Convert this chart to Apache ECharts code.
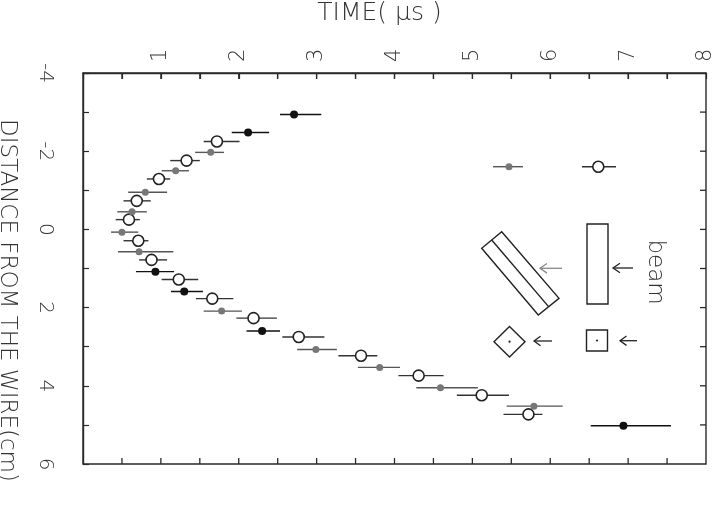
<!DOCTYPE html>
<html>
<head>
<meta charset="utf-8">
<script src="https://cdn.jsdelivr.net/npm/echarts@6/dist/echarts.min.js"></script>
<style>html,body{margin:0;padding:0;background:#fff;}#c{width:720px;height:516px;}</style>
</head>
<body>
<div id="c"></div>
<script>
// Open circles: distance (cm), time (us), error-bar low/high (us)
const openDist = [-2.25, -1.76, -1.29, -0.73, -0.25, 0.29, 0.78, 1.28, 1.77, 2.27, 2.75, 3.23, 3.74, 4.24, 4.73];
const openTime = [1.72, 1.33, 0.975, 0.69, 0.59, 0.71, 0.88, 1.23, 1.66, 2.19, 2.77, 3.57, 4.31, 5.12, 5.72];
const openLo   = [1.55, 1.12, 0.82, 0.52, 0.42, 0.52, 0.72, 1.01, 1.45, 1.97, 2.56, 3.28, 4.05, 4.80, 5.40];
const openHi   = [2.01, 1.50, 1.12, 0.87, 0.73, 0.84, 1.08, 1.48, 1.93, 2.49, 3.10, 3.78, 4.63, 5.47, 5.90];
// Gray dots
const grayDist = [-1.97, -1.5, -0.95, -0.45, 0.07, 0.57, 2.09, 3.07, 3.53, 4.05, 4.52];
const grayTime = [1.64, 1.19, 0.80, 0.63, 0.50, 0.72, 1.78, 2.99, 3.81, 4.59, 5.79];
const grayLo   = [1.44, 1.01, 0.58, 0.44, 0.36, 0.45, 1.55, 2.75, 3.53, 4.28, 5.44];
const grayHi   = [1.81, 1.36, 1.08, 0.82, 0.71, 1.16, 2.04, 3.26, 4.07, 5.07, 6.16];
// Black dots
const blackDist = [-2.94, -2.48, 1.08, 1.59, 2.60, 5.02];
const blackTime = [2.71, 2.12, 0.93, 1.30, 2.30, 6.94];
const blackLo   = [2.53, 1.91, 0.68, 1.13, 2.10, 6.52];
const blackHi   = [3.06, 2.39, 1.17, 1.54, 2.53, 7.55];
// Tick labels and tick positions
const timeTickLabels = [1, 2, 3, 4, 5, 6, 7, 8];
const distTickLabels = [-4, -2, 0, 2, 4, 6];
const timeTicks = [0.5, 1, 1.5, 2, 2.5, 3, 3.5, 4, 4.5, 5, 5.5, 6, 6.5, 7, 7.5];
const distTicks = [-3, -2, -1, 0, 1, 2, 3, 4, 5];

const FONT = 'DejaVu Sans';
const INK = '#2a2a2a';
const TICK = 6;

function errRender(color) {
  return function (params, api) {
    const a = api.coord([api.value(0), api.value(2)]);
    const b = api.coord([api.value(1), api.value(2)]);
    return { type: 'line', shape: { x1: a[0], y1: a[1], x2: b[0], y2: b[1] },
             style: { stroke: color, lineWidth: 1.4 } };
  };
}
function errData(lo, hi, d) { return lo.map((v, i) => [v, hi[i], d[i]]); }
function ptData(t, d) { return t.map((v, i) => [v, d[i]]); }

const chart = echarts.init(document.getElementById('c'), null, { renderer: 'canvas' });

const legendGraphic = [
  // legend: gray dot with bar
  { type: 'line', shape: { x1: 493, y1: 166.7, x2: 523, y2: 166.7 }, style: { stroke: '#555', lineWidth: 1.4 }, z: 10 },
  { type: 'circle', shape: { cx: 509, cy: 166.7, r: 3.5 }, style: { fill: '#777' }, z: 11 },
  // legend: open circle with bar
  { type: 'line', shape: { x1: 582, y1: 166.7, x2: 616, y2: 166.7 }, style: { stroke: '#333', lineWidth: 1.4 }, z: 10 },
  { type: 'circle', shape: { cx: 598.3, cy: 166.7, r: 5.5 }, style: { fill: '#fff', stroke: '#222', lineWidth: 1.6 }, z: 11 },
  // tilted beam rectangle
  { type: 'polygon', shape: { points: [[501.7, 231.7], [559, 298.3], [538.3, 315], [481.7, 248.3]] },
    style: { fill: 'none', stroke: '#222', lineWidth: 1.4 }, z: 10 },
  { type: 'line', shape: { x1: 491.7, y1: 240, x2: 548.6, y2: 306.6 }, style: { stroke: '#222', lineWidth: 1.4 }, z: 10 },
  // gray arrow
  { type: 'line', shape: { x1: 540, y1: 268.3, x2: 562, y2: 268.3 }, style: { stroke: '#888', lineWidth: 1.3 }, z: 10 },
  { type: 'polyline', shape: { points: [[547, 263.5], [540, 268.3], [547, 273.1]] }, style: { stroke: '#888', lineWidth: 1.3, fill: 'none' }, z: 10 },
  // upright beam rectangle
  { type: 'rect', shape: { x: 587, y: 224, width: 21, height: 80 }, style: { fill: 'none', stroke: '#222', lineWidth: 1.4 }, z: 10 },
  // black arrow
  { type: 'line', shape: { x1: 613, y1: 268, x2: 633, y2: 268 }, style: { stroke: '#222', lineWidth: 1.3 }, z: 10 },
  { type: 'polyline', shape: { points: [[620, 263.2], [613, 268], [620, 272.8]] }, style: { stroke: '#222', lineWidth: 1.3, fill: 'none' }, z: 10 },
  // beam label
  { type: 'text', x: 655, y: 272, rotation: -Math.PI / 2,
    style: { text: 'beam', fontSize: 23, fontFamily: FONT, fontWeight: 200, fill: '#333', align: 'center', verticalAlign: 'middle' }, z: 10 },
  // diamond (tilted cross-section)
  { type: 'polygon', shape: { points: [[509.5, 326.5], [525, 341.7], [509.5, 357], [494, 341.7]] },
    style: { fill: 'none', stroke: '#222', lineWidth: 1.4 }, z: 10 },
  { type: 'circle', shape: { cx: 509.5, cy: 341.7, r: 1.1 }, style: { fill: '#222' }, z: 10 },
  { type: 'line', shape: { x1: 534, y1: 341, x2: 552, y2: 341 }, style: { stroke: '#222', lineWidth: 1.3 }, z: 10 },
  { type: 'polyline', shape: { points: [[540.5, 336.3], [534, 341], [540.5, 345.7]] }, style: { stroke: '#222', lineWidth: 1.3, fill: 'none' }, z: 10 },
  // square (upright cross-section)
  { type: 'rect', shape: { x: 586.5, y: 330, width: 21, height: 21 }, style: { fill: 'none', stroke: '#222', lineWidth: 1.4 }, z: 10 },
  { type: 'circle', shape: { cx: 597, cy: 340.5, r: 1.1 }, style: { fill: '#222' }, z: 10 },
  { type: 'line', shape: { x1: 620, y1: 340.7, x2: 637, y2: 340.7 }, style: { stroke: '#222', lineWidth: 1.3 }, z: 10 },
  { type: 'polyline', shape: { points: [[626.5, 336], [620, 340.7], [626.5, 345.4]] }, style: { stroke: '#222', lineWidth: 1.3, fill: 'none' }, z: 10 }
];

const option = {
  animation: false,
  backgroundColor: '#fff',
  grid: { left: 83, top: 73, right: 14, bottom: 52, containLabel: false, outerBoundsMode: 'none',
          show: true, borderColor: INK, borderWidth: 1.4, backgroundColor: 'transparent' },
  xAxis: {
    type: 'value', position: 'top', min: 0, max: 8, interval: 0.5,
    axisLine: { show: true, onZero: false, lineStyle: { color: INK, width: 1.4 } },
    axisTick: { show: true, inside: true, length: TICK, lineStyle: { color: INK, width: 1.2 } },
    splitLine: { show: false },
    axisLabel: {
      rotate: -90, margin: 11, fontSize: 21, fontFamily: FONT, fontWeight: 200, color: '#333',
      formatter: v => timeTickLabels.indexOf(v) >= 0 ? String(v) : ''
    },
    name: 'TIME( μs )', nameLocation: 'middle', nameGap: 47,
    nameTextStyle: { fontSize: 25, fontFamily: FONT, fontWeight: 200, color: '#333', padding: [0, 30, 0, 0] }
  },
  yAxis: {
    type: 'value', position: 'left', inverse: true, min: -4, max: 6, interval: 1,
    axisLine: { show: true, onZero: false, lineStyle: { color: INK, width: 1.4 } },
    axisTick: { show: true, inside: true, length: TICK, lineStyle: { color: INK, width: 1.2 } },
    splitLine: { show: false },
    axisLabel: {
      rotate: -90, margin: 28, fontSize: 20, fontFamily: FONT, fontWeight: 200, color: '#333',
      formatter: v => distTickLabels.indexOf(v) >= 0 ? String(v) : ''
    },
    name: 'DISTANCE FROM THE WIRE(cm)', nameLocation: 'middle', nameRotate: -90, nameGap: 65,
    nameTextStyle: { fontSize: 23, fontFamily: FONT, fontWeight: 200, color: '#333', padding: [0, 0, 0, 64] }
  },
  series: [
    { type: 'custom', name: 'open-err', renderItem: errRender('#333'), data: errData(openLo, openHi, openDist),
      encode: { x: [0, 1], y: 2 }, z: 2 },
    { type: 'custom', name: 'gray-err', renderItem: errRender('#555'), data: errData(grayLo, grayHi, grayDist),
      encode: { x: [0, 1], y: 2 }, z: 2 },
    { type: 'custom', name: 'black-err', renderItem: errRender('#111'), data: errData(blackLo, blackHi, blackDist),
      encode: { x: [0, 1], y: 2 }, z: 2 },
    { type: 'scatter', name: 'open', data: ptData(openTime, openDist), symbol: 'circle', symbolSize: 11,
      itemStyle: { color: '#fff', borderColor: '#222', borderWidth: 1.6, opacity: 1 }, z: 4 },
    { type: 'scatter', name: 'gray', data: ptData(grayTime, grayDist), symbol: 'circle', symbolSize: 7,
      itemStyle: { color: '#777', opacity: 1 }, z: 4 },
    { type: 'scatter', name: 'black', data: ptData(blackTime, blackDist), symbol: 'circle', symbolSize: 8,
      itemStyle: { color: '#111', opacity: 1 }, z: 4 }
  ],
  graphic: legendGraphic
};
chart.setOption(option);

// Frame ticks on the bottom and right edges (and top, for certainty), placed through the axes' scales
const tickGraphic = [];
const tst = { stroke: INK, lineWidth: 1.3 };
timeTicks.forEach(v => {
  const t = chart.convertToPixel({ gridIndex: 0 }, [v, -4]);
  const b = chart.convertToPixel({ gridIndex: 0 }, [v, 6]);
  tickGraphic.push({ type: 'line', shape: { x1: t[0], y1: t[1], x2: t[0], y2: t[1] + TICK }, style: tst, z: 20 });
  tickGraphic.push({ type: 'line', shape: { x1: b[0], y1: b[1], x2: b[0], y2: b[1] - TICK }, style: tst, z: 20 });
});
distTicks.forEach(d => {
  const r = chart.convertToPixel({ gridIndex: 0 }, [8, d]);
  tickGraphic.push({ type: 'line', shape: { x1: r[0], y1: r[1], x2: r[0] - TICK, y2: r[1] }, style: tst, z: 20 });
});
chart.setOption({ graphic: legendGraphic.concat(tickGraphic) });
</script>
</body>
</html>
